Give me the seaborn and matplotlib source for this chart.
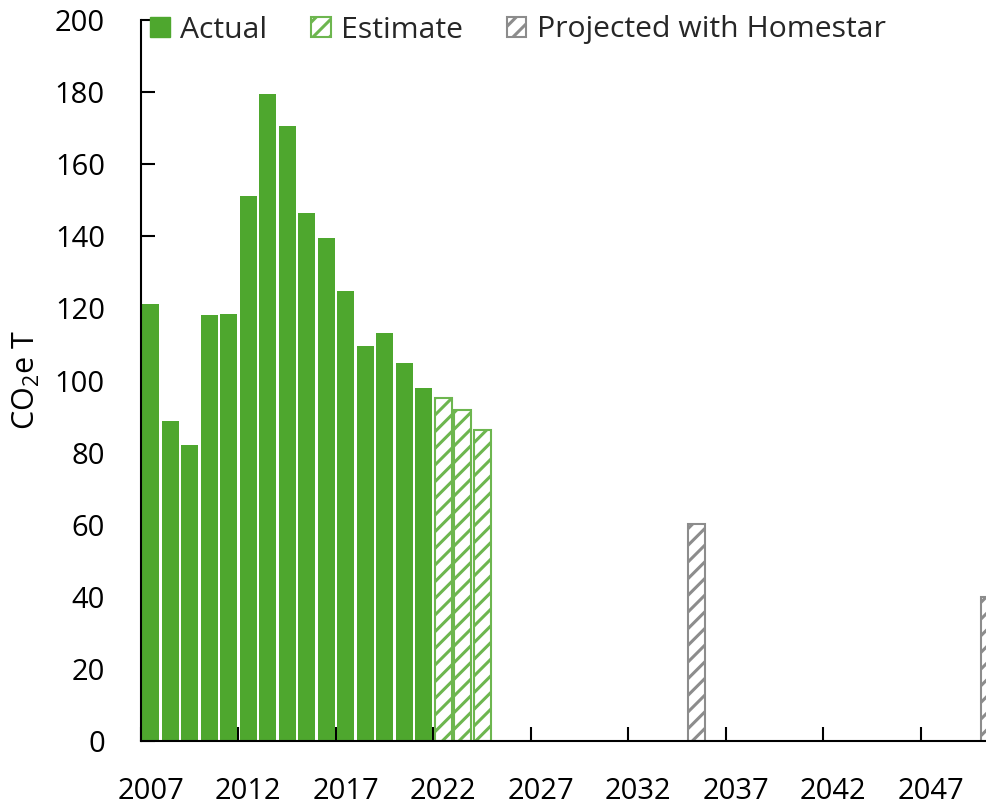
import matplotlib
matplotlib.use("Agg")
import matplotlib.pyplot as plt
import seaborn as sns
import pandas as pd
from matplotlib.patches import Patch
from matplotlib.ticker import FixedLocator, NullFormatter

# ---- data ----
all_years = [str(y) for y in range(2007, 2051)]
actual_years = ["2007", "2008", "2009", "2010", "2011", "2012", "2013", "2014",
                "2015", "2016", "2017", "2018", "2019", "2020", "2021"]
actual_values = [121.2, 88.8, 82.1, 118.2, 118.4, 151.2, 179.5, 170.6,
                 146.5, 139.5, 124.8, 109.6, 113.2, 104.9, 97.9]
estimate_years = ["2022", "2023", "2024"]
estimate_values = [95.1, 91.8, 86.3]
projected_years = ["2035", "2050"]
projected_values = [60.2, 40.0]
series_names = ["Actual", "Estimate", "Projected with Homestar"]
tick_label_years = ["2007", "2012", "2017", "2022", "2027", "2032", "2037", "2042", "2047"]
y_ticks = [0, 20, 40, 60, 80, 100, 120, 140, 160, 180, 200]

GREEN = "#4EA72E"
GREEN_EDGE = "#6DB64F"
GRAY = "#8C8C8C"

df = pd.DataFrame({
    "year": actual_years + estimate_years + projected_years,
    "value": actual_values + estimate_values + projected_values,
    "type": [series_names[0]] * len(actual_years)
            + [series_names[1]] * len(estimate_years)
            + [series_names[2]] * len(projected_years),
})

sns.set_style("white")
plt.rcParams["font.family"] = ["Open Sans", "DejaVu Sans"]
plt.rcParams["hatch.linewidth"] = 2.2
plt.rcParams["mathtext.fontset"] = "custom"
plt.rcParams["mathtext.rm"] = "Open Sans"

W, H = 987, 807
fig = plt.figure(figsize=(W / 100, H / 100), dpi=100)
ax_left, ax_right, ax_top, ax_bottom = 141, 999, 20, 741
ax = fig.add_axes([ax_left / W, (H - ax_bottom) / H,
                   (ax_right - ax_left) / W, (ax_bottom - ax_top) / H])

sns.barplot(data=df, x="year", y="value", hue="type", order=all_years,
            hue_order=series_names, dodge=False, width=0.88,
            palette=[GREEN, "white", "white"], legend=False, ax=ax,
            saturation=1, errorbar=None)

styles = [
    dict(facecolor=GREEN, edgecolor=GREEN, hatch=None, lw=0),
    dict(facecolor="white", edgecolor=GREEN_EDGE, hatch="//", lw=1.5),
    dict(facecolor="white", edgecolor=GRAY, hatch="//", lw=1.5),
]
for cont, st in zip(ax.containers, styles):
    for p in cont:
        p.set_facecolor(st["facecolor"])
        p.set_edgecolor(st["edgecolor"])
        p.set_linewidth(st["lw"])
        if st["hatch"]:
            p.set_hatch(st["hatch"])

ax.set_xlim(-0.5, len(all_years) - 0.5)
ax.set_ylim(0, 200)

# x: tick marks at category boundaries every 5, labels centered on categories
boundaries = [all_years.index(y) - 0.5 for y in tick_label_years]
centers = [all_years.index(y) for y in tick_label_years]
ax.xaxis.set_major_locator(FixedLocator(boundaries))
ax.xaxis.set_major_formatter(NullFormatter())
ax.set_xticks(centers, minor=True)
ax.set_xticklabels(tick_label_years, minor=True)
ax.tick_params(axis="x", which="major", bottom=True, direction="in", length=10,
               width=1.5, color="black")
ax.tick_params(axis="x", which="minor", bottom=True, length=0, pad=26,
               labelsize=21, labelcolor="black")

ax.set_yticks(y_ticks)
ax.set_yticklabels([str(v) for v in y_ticks])
ax.tick_params(axis="y", left=True, direction="in", length=10, width=1.5, color="black",
               pad=26, labelsize=21, labelcolor="black")
ax.set_xlabel("")
ax.set_ylabel(r"CO$_\mathregular{2}$e T", fontsize=22, color="black")
ax.yaxis.set_label_coords((42 - ax_left) / (ax_right - ax_left), 0.5)

for s in ["top", "right"]:
    ax.spines[s].set_visible(False)
for s in ["left", "bottom"]:
    ax.spines[s].set_color("black")
    ax.spines[s].set_linewidth(1.5)

handles = [Patch(facecolor=GREEN, edgecolor=GREEN),
           Patch(facecolor="white", edgecolor=GREEN_EDGE, hatch="//", linewidth=1.5),
           Patch(facecolor="white", edgecolor=GRAY, hatch="//", linewidth=1.5)]
ax.legend(handles, series_names, loc="center left",
          bbox_to_anchor=((150 - ax_left) / (ax_right - ax_left), (ax_bottom - 30) / (ax_bottom - ax_top)),
          ncol=3, frameon=False, fontsize=21.7, handlelength=0.65, handleheight=0.65,
          handletextpad=0.35, columnspacing=1.45, borderpad=0, borderaxespad=0)

fig.savefig("out.png", dpi=100)
